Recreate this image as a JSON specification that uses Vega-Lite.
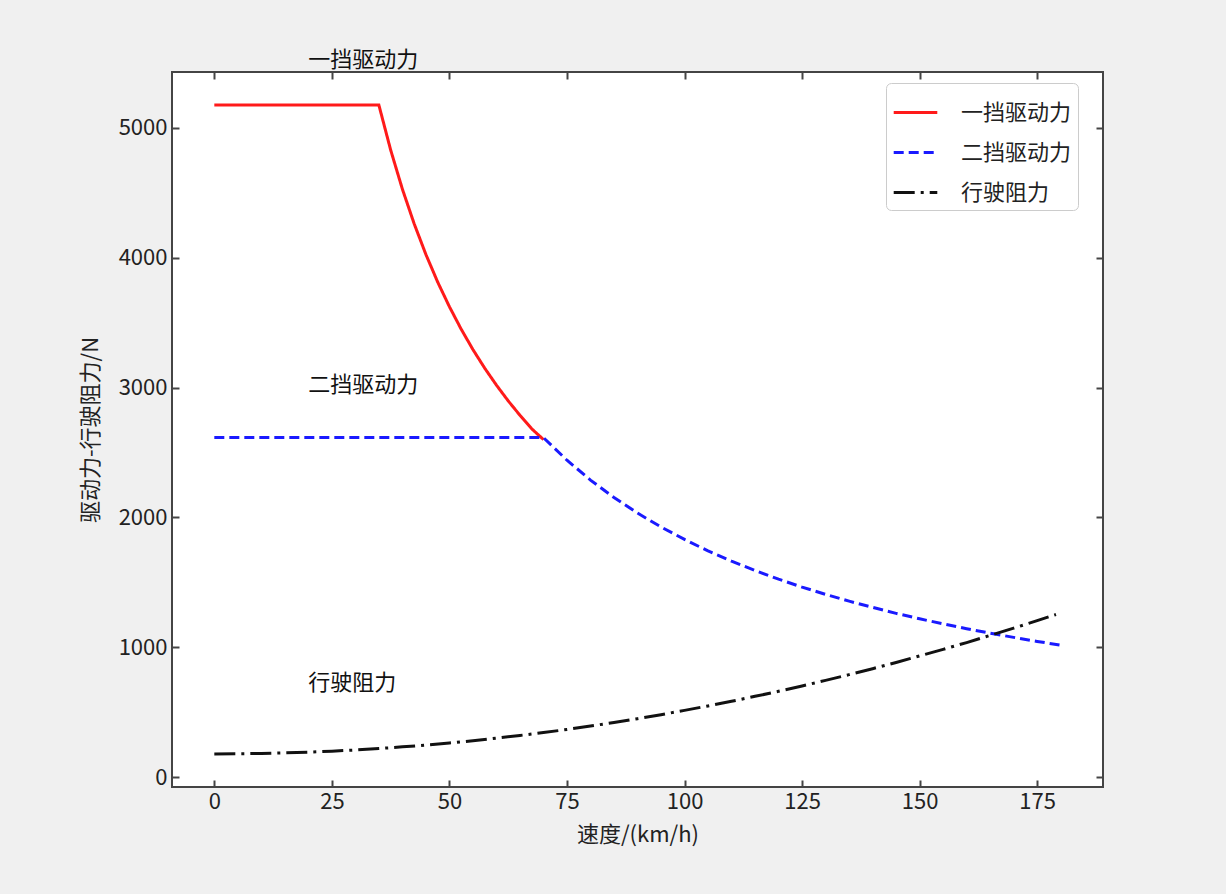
{
  "$schema": "https://vega.github.io/schema/vega-lite/v6.json",
  "autosize": {"type": "none"},
  "padding": {"left": 172, "top": 72, "right": 123, "bottom": 107},
  "width": 931,
  "height": 715,
  "background": "#f0f0f0",
  "config": {
    "font": "Noto Sans CJK SC",
    "view": {"fill": "white", "stroke": "#444444", "strokeWidth": 2},
    "axis": {"domain": false, "grid": false, "tickColor": "#444444", "tickWidth": 2, "tickSize": -7, "labelFontSize": 22, "labelColor": "#222222", "labelFont": "Noto Sans CJK SC", "titleFont": "Noto Sans CJK SC", "titleFontSize": 22, "titleFontWeight": "normal", "titleColor": "#222222", "format": "d"}
  },
  "datasets": {
    "curves": [
      {"v": 0, "F": 5175, "series": "一挡驱动力"},
      {"v": 35, "F": 5175, "series": "一挡驱动力"},
      {"v": 37.5, "F": 4830, "series": "一挡驱动力"},
      {"v": 40, "F": 4528, "series": "一挡驱动力"},
      {"v": 42.5, "F": 4262, "series": "一挡驱动力"},
      {"v": 45, "F": 4025, "series": "一挡驱动力"},
      {"v": 47.5, "F": 3813, "series": "一挡驱动力"},
      {"v": 50, "F": 3623, "series": "一挡驱动力"},
      {"v": 52.5, "F": 3450, "series": "一挡驱动力"},
      {"v": 55, "F": 3293, "series": "一挡驱动力"},
      {"v": 57.5, "F": 3150, "series": "一挡驱动力"},
      {"v": 60, "F": 3019, "series": "一挡驱动力"},
      {"v": 62.5, "F": 2898, "series": "一挡驱动力"},
      {"v": 65, "F": 2787, "series": "一挡驱动力"},
      {"v": 67.5, "F": 2683, "series": "一挡驱动力"},
      {"v": 70, "F": 2600, "series": "一挡驱动力"},
      {"v": 0, "F": 2615, "series": "二挡驱动力"},
      {"v": 70, "F": 2615, "series": "二挡驱动力"},
      {"v": 75, "F": 2441, "series": "二挡驱动力"},
      {"v": 80, "F": 2288, "series": "二挡驱动力"},
      {"v": 85, "F": 2154, "series": "二挡驱动力"},
      {"v": 90, "F": 2034, "series": "二挡驱动力"},
      {"v": 95, "F": 1927, "series": "二挡驱动力"},
      {"v": 100, "F": 1831, "series": "二挡驱动力"},
      {"v": 105, "F": 1743, "series": "二挡驱动力"},
      {"v": 110, "F": 1664, "series": "二挡驱动力"},
      {"v": 115, "F": 1592, "series": "二挡驱动力"},
      {"v": 120, "F": 1525, "series": "二挡驱动力"},
      {"v": 125, "F": 1464, "series": "二挡驱动力"},
      {"v": 130, "F": 1408, "series": "二挡驱动力"},
      {"v": 135, "F": 1356, "series": "二挡驱动力"},
      {"v": 140, "F": 1308, "series": "二挡驱动力"},
      {"v": 145, "F": 1262, "series": "二挡驱动力"},
      {"v": 150, "F": 1220, "series": "二挡驱动力"},
      {"v": 155, "F": 1181, "series": "二挡驱动力"},
      {"v": 160, "F": 1144, "series": "二挡驱动力"},
      {"v": 165, "F": 1109, "series": "二挡驱动力"},
      {"v": 170, "F": 1077, "series": "二挡驱动力"},
      {"v": 175, "F": 1046, "series": "二挡驱动力"},
      {"v": 180, "F": 1017, "series": "二挡驱动力"},
      {"v": 0, "F": 180, "series": "行驶阻力"},
      {"v": 5, "F": 181, "series": "行驶阻力"},
      {"v": 10, "F": 183, "series": "行驶阻力"},
      {"v": 15, "F": 188, "series": "行驶阻力"},
      {"v": 20, "F": 193, "series": "行驶阻力"},
      {"v": 25, "F": 201, "series": "行驶阻力"},
      {"v": 30, "F": 210, "series": "行驶阻力"},
      {"v": 35, "F": 221, "series": "行驶阻力"},
      {"v": 40, "F": 234, "series": "行驶阻力"},
      {"v": 45, "F": 248, "series": "行驶阻力"},
      {"v": 50, "F": 264, "series": "行驶阻力"},
      {"v": 55, "F": 281, "series": "行驶阻力"},
      {"v": 60, "F": 301, "series": "行驶阻力"},
      {"v": 65, "F": 322, "series": "行驶阻力"},
      {"v": 70, "F": 344, "series": "行驶阻力"},
      {"v": 75, "F": 368, "series": "行驶阻力"},
      {"v": 80, "F": 394, "series": "行驶阻力"},
      {"v": 85, "F": 422, "series": "行驶阻力"},
      {"v": 90, "F": 451, "series": "行驶阻力"},
      {"v": 95, "F": 482, "series": "行驶阻力"},
      {"v": 100, "F": 515, "series": "行驶阻力"},
      {"v": 105, "F": 549, "series": "行驶阻力"},
      {"v": 110, "F": 585, "series": "行驶阻力"},
      {"v": 115, "F": 623, "series": "行驶阻力"},
      {"v": 120, "F": 662, "series": "行驶阻力"},
      {"v": 125, "F": 703, "series": "行驶阻力"},
      {"v": 130, "F": 746, "series": "行驶阻力"},
      {"v": 135, "F": 790, "series": "行驶阻力"},
      {"v": 140, "F": 836, "series": "行驶阻力"},
      {"v": 145, "F": 884, "series": "行驶阻力"},
      {"v": 150, "F": 934, "series": "行驶阻力"},
      {"v": 155, "F": 985, "series": "行驶阻力"},
      {"v": 160, "F": 1037, "series": "行驶阻力"},
      {"v": 165, "F": 1092, "series": "行驶阻力"},
      {"v": 170, "F": 1148, "series": "行驶阻力"},
      {"v": 175, "F": 1206, "series": "行驶阻力"},
      {"v": 179, "F": 1253, "series": "行驶阻力"}
    ],
    "labels": [
      {"v": 20, "F": 5500, "label": "一挡驱动力"},
      {"v": 20, "F": 3000, "label": "二挡驱动力"},
      {"v": 20, "F": 700, "label": "行驶阻力"}
    ]
  },
  "layer": [
    {
      "data": {"name": "curves"},
      "mark": {"type": "line", "strokeWidth": 3, "clip": false},
      "encoding": {
        "x": {"field": "v", "type": "quantitative", "scale": {"domain": [-9, 189], "nice": false, "zero": false},
              "axis": {"orient": "bottom", "values": [0, 25, 50, 75, 100, 125, 150, 175], "title": "速度/(km/h)", "labelPadding": 11, "titlePadding": 12}},
        "y": {"field": "F", "type": "quantitative", "scale": {"domain": [-75, 5430], "nice": false, "zero": false},
              "axis": {"orient": "left", "values": [0, 1000, 2000, 3000, 4000, 5000], "title": "驱动力-行驶阻力/N", "labelPadding": 12, "titlePadding": 16}},
        "color": {"field": "series", "type": "nominal", "title": null,
                  "scale": {"domain": ["一挡驱动力", "二挡驱动力", "行驶阻力"], "range": ["#ff1a1a", "#1a1aff", "#111111"]},
                  "legend": {"orient": "none", "legendX": 714, "legendY": 11, "symbolType": "stroke", "symbolSize": 1900, "symbolStrokeWidth": 3,
                             "labelFontSize": 22, "labelColor": "#222222", "labelOffset": 22, "rowPadding": 5, "padding": 6,
                             "strokeColor": "#cccccc", "fillColor": "white", "cornerRadius": 5}},
        "strokeDash": {"field": "series", "type": "nominal", "title": null,
                       "scale": {"domain": ["一挡驱动力", "二挡驱动力", "行驶阻力"], "range": [[1, 0], [10, 5], [21, 6, 3, 6]]}}
      }
    },
    {
      "data": {"name": "labels"},
      "mark": {"type": "text", "align": "left", "baseline": "alphabetic", "fontSize": 22, "color": "#111111", "dy": 4, "clip": false},
      "encoding": {
        "x": {"field": "v", "type": "quantitative",
              "axis": {"orient": "top", "values": [0, 25, 50, 75, 100, 125, 150, 175], "labels": false, "title": null}},
        "y": {"field": "F", "type": "quantitative",
              "axis": {"orient": "right", "values": [0, 1000, 2000, 3000, 4000, 5000], "labels": false, "title": null}},
        "text": {"field": "label"}
      }
    }
  ],
  "resolve": {"axis": {"x": "independent", "y": "independent"}}
}
